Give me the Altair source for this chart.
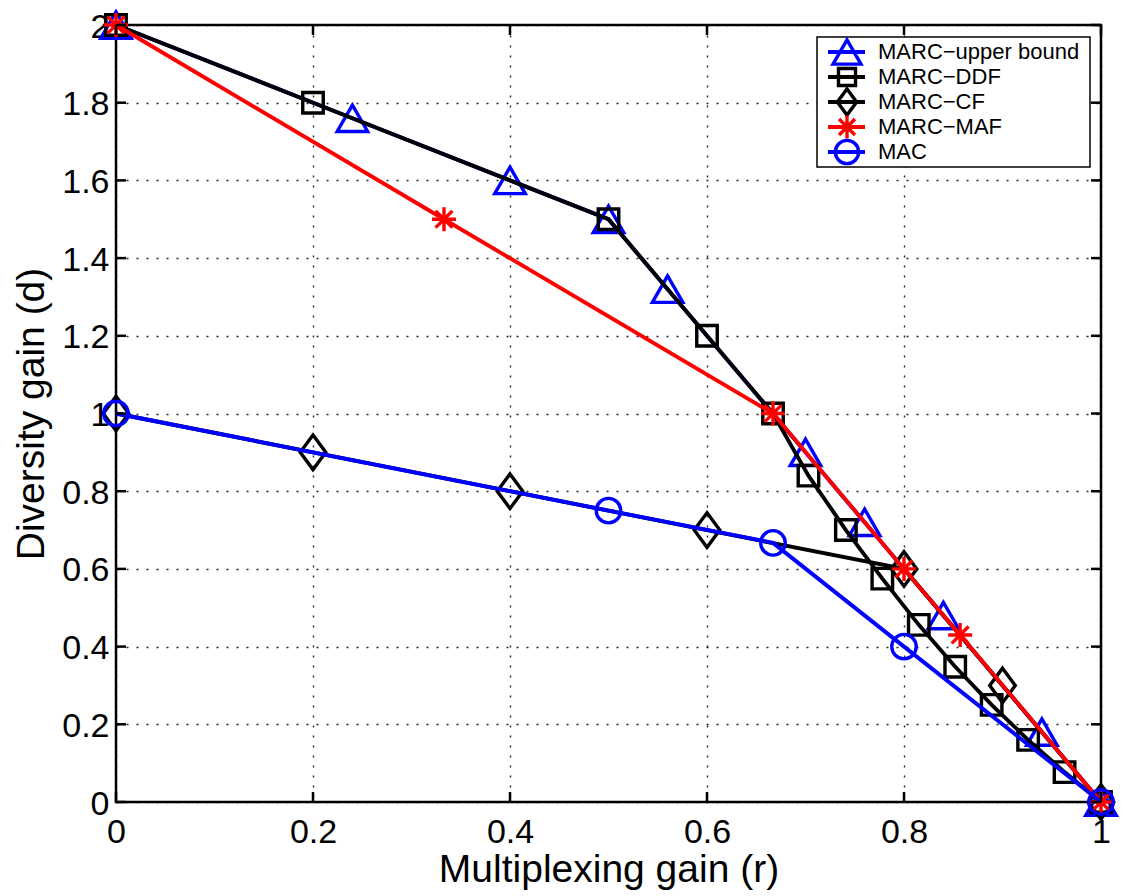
import altair as alt
import pandas as pd

# ---------------- data ----------------
series_names = ["MARC−upper bound", "MARC−DDF", "MARC−CF", "MARC−MAF", "MAC"]
series_colors = ["#0000ff", "#000000", "#000000", "#ff0000", "#0000ff"]

ub_r = [0, 0.24, 0.4, 0.5, 0.56, 0.7, 0.76, 0.84, 0.94, 1]
ub_d = [2, 1.76, 1.6, 1.5, 1.32, 0.9, 0.72, 0.48, 0.18, 0]

ddf_r = [0, 0.2, 0.5, 0.6, 0.667, 0.703, 0.741, 0.778, 0.815, 0.852, 0.889, 0.926, 0.963, 1]
ddf_d = [2, 1.8, 1.5, 1.2, 1.0, 0.84, 0.70, 0.575, 0.456, 0.348, 0.25, 0.16, 0.077, 0]

cf_r = [0, 0.2, 0.4, 0.6, 0.8, 0.9, 1]
cf_d = [1, 0.9, 0.8, 0.7, 0.6, 0.3, 0]

maf_r = [0, 0.333, 0.667, 0.8, 0.857, 1]
maf_d = [2, 1.5, 1.0, 0.6, 0.43, 0]

mac_r = [0, 0.5, 0.667, 0.8, 1]
mac_d = [1, 0.75, 0.667, 0.4, 0]

x_ticks = [0, 0.2, 0.4, 0.6, 0.8, 1]
y_ticks = [0, 0.2, 0.4, 0.6, 0.8, 1, 1.2, 1.4, 1.6, 1.8, 2]

series_r = [ub_r, ddf_r, cf_r, maf_r, mac_r]
series_d = [ub_d, ddf_d, cf_d, maf_d, mac_d]

# ---------------- styles ----------------
W, H = 985, 777
FONT = "Liberation Sans"
STAR = "M0,-1L0,1M-1,0L1,0M-0.7,-0.7L0.7,0.7M-0.7,0.7L0.7,-0.7"
DIAMOND = "M0,-1L0.74,0L0,1L-0.74,0Z"
shapes = ["triangle-up", "square", DIAMOND, STAR, "circle"]
sizes = [930, 420, 1190, 576, 600]
legend_sizes = [780, 290, 680, 520, 540]

xscale = alt.Scale(domain=[0, 1], nice=False, zero=False)
yscale = alt.Scale(domain=[0, 2], nice=False, zero=False)

x_axis = alt.Axis(values=x_ticks, format=".1~f", title="Multiplexing gain (r)",
                  labelPadding=13, labelBaseline="top", titleBaseline="alphabetic",
                  titleY=79)
y_axis = alt.Axis(values=y_ticks, format=".1~f", title="Diversity gain (d)",
                  labelPadding=7, titleBaseline="alphabetic", titleX=-73,
                  labelOffset=2)

X = alt.X("r:Q", scale=xscale, axis=x_axis)
Y = alt.Y("d:Q", scale=yscale, axis=y_axis)

layers = []
for i in range(len(series_names)):
    df = pd.DataFrame({"r": series_r[i], "d": series_d[i]})
    base = alt.Chart(df)
    line = base.mark_line(color=series_colors[i], strokeWidth=3.9).encode(x=X, y=Y)
    pts = base.mark_point(shape=shapes[i], size=sizes[i], filled=False,
                          stroke=series_colors[i], strokeWidth=3.4,
                          opacity=1).encode(x=X, y=Y)
    layers += [line, pts]

# inward tick marks on all four sides
xt = alt.Chart(pd.DataFrame({"r": x_ticks}))
yt = alt.Chart(pd.DataFrame({"d": y_ticks}))
tick_style = dict(color="black", strokeWidth=2.5)
layers += [
    xt.mark_rule(**tick_style).encode(x=X, y=alt.value(H), y2=alt.value(H - 10)),
    xt.mark_rule(**tick_style).encode(x=X, y=alt.value(0), y2=alt.value(10)),
    yt.mark_rule(**tick_style).encode(y=Y, x=alt.value(0), x2=alt.value(10)),
    yt.mark_rule(**tick_style).encode(y=Y, x=alt.value(W), x2=alt.value(W - 10)),
]

# legend box
box = alt.Chart(pd.DataFrame({"a": [0]})).mark_rect(
    fill="white", stroke="black", strokeWidth=1.5
).encode(x=alt.value(701), x2=alt.value(974), y=alt.value(12), y2=alt.value(142))
layers.append(box)

for i, name in enumerate(series_names):
    ldf = pd.DataFrame({"series": [name], "idx": [i]})
    lb = alt.Chart(ldf).transform_calculate(ly="27 + 25*datum.idx")
    LY = alt.Y("ly:Q", scale=None)
    layers += [
        lb.mark_rule(color=series_colors[i], strokeWidth=3.9).encode(
            x=alt.value(712), x2=alt.value(749), y=LY),
        lb.mark_point(shape=shapes[i], size=legend_sizes[i], filled=False,
                      stroke=series_colors[i], strokeWidth=3.4, opacity=1).encode(
            x=alt.value(731), y=LY),
        lb.mark_text(align="left", baseline="middle", font=FONT, fontSize=22,
                     color="black").encode(x=alt.value(762), y=LY, text="series:N"),
    ]

chart = alt.layer(*layers).properties(
    width=W, height=H,
    autosize=alt.AutoSizeParams(type="none"),
    padding={"left": 116, "top": 25, "right": 21, "bottom": 94},
    background="white",
).configure_view(
    stroke="black", strokeWidth=2.5
).configure_axis(
    labelFont=FONT, titleFont=FONT, labelFontSize=34, titleFontSize=39,
    titleFontWeight="normal", labelColor="black", titleColor="black",
    domain=False, ticks=False, tickSize=0, grid=True, gridColor="black",
    gridDash=[2, 8], gridWidth=1.4, gridOpacity=0.85,
    labelFlush=False, labelOverlap=False,
)

chart.save("out.html", embed_options={"renderer": "svg", "actions": False})
